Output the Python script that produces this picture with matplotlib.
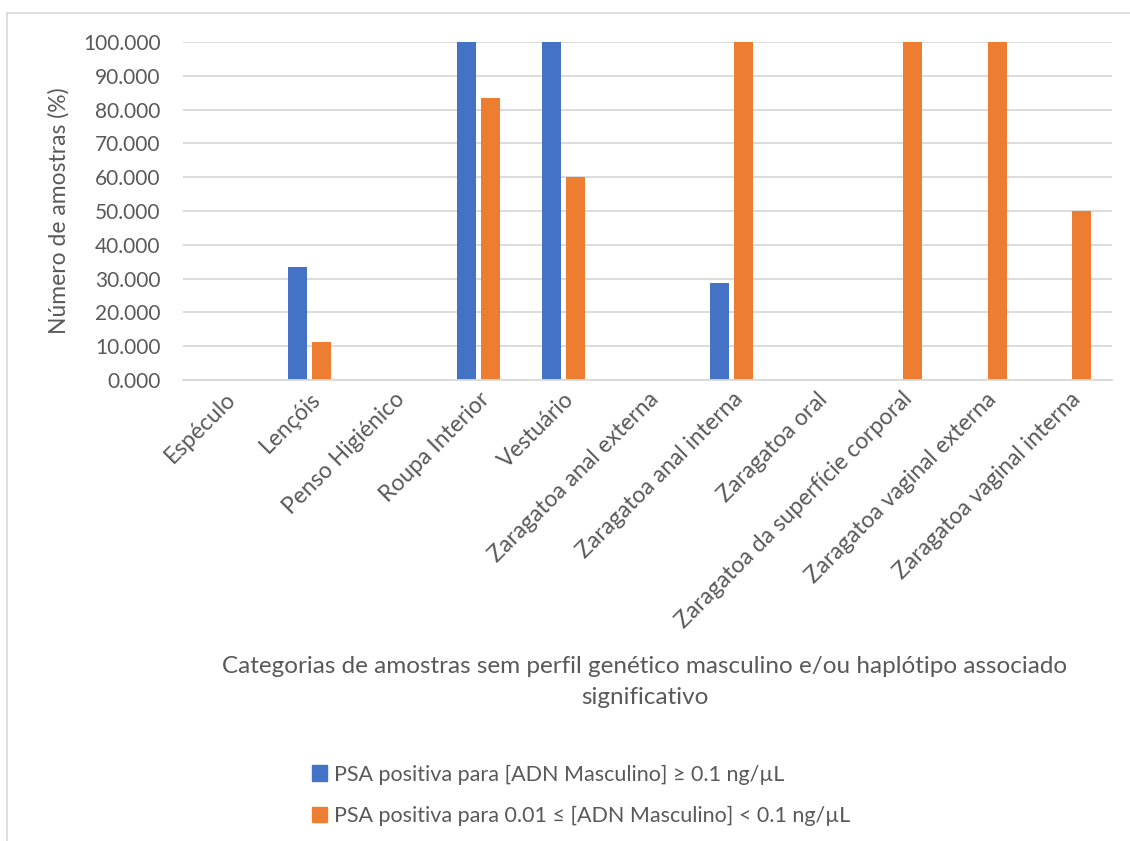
import numpy as np
import matplotlib.pyplot as plt
from matplotlib.patches import Patch
from matplotlib.lines import Line2D

plt.rcParams['font.family'] = ['Lato', 'DejaVu Sans']

categorias = ["Espéculo", "Lençóis", "Penso Higiénico", "Roupa Interior", "Vestuário",
              "Zaragatoa anal externa", "Zaragatoa anal interna", "Zaragatoa oral",
              "Zaragatoa da superfície corporal", "Zaragatoa vaginal externa",
              "Zaragatoa vaginal interna"]
psa_alto = [0, 33.333, 0, 100, 100, 0, 28.571, 0, 0, 0, 0]
psa_baixo = [0, 11.111, 0, 83.333, 60, 0, 100, 0, 100, 100, 50]
serie_labels = ["PSA positiva para [ADN Masculino] ≥ 0.1 ng/µL",
                "PSA positiva para 0.01 ≤ [ADN Masculino] < 0.1 ng/µL"]

azul = '#4472C4'
laranja = '#ED7D31'
cinza = '#595959'

fig = plt.figure(figsize=(11.3, 8.41), dpi=100)
ax = fig.add_axes([183 / 1130, 1 - 380 / 841, (1112 - 183) / 1130, (380 - 42) / 841])

x = np.arange(len(categorias))
w = 0.225
ax.bar(x - 0.142, psa_alto, w, color=azul, label=serie_labels[0])
ax.bar(x + 0.142, psa_baixo, w, color=laranja, label=serie_labels[1])

ax.set_xlim(-0.5, len(categorias) - 0.5)
ax.set_ylim(0, 100)
ax.set_yticks(np.arange(0, 101, 10))
ax.set_yticklabels([f"{v:.3f}" for v in np.arange(0, 101, 10)])
ax.yaxis.grid(True, color='#d9d9d9', linewidth=1.3)
ax.set_axisbelow(True)
for s in ['top', 'right', 'left']:
    ax.spines[s].set_visible(False)
ax.spines['bottom'].set_color('#d9d9d9')
ax.spines['bottom'].set_linewidth(1.3)
ax.tick_params(axis='y', length=0, labelsize=15, labelcolor=cinza, pad=16)
ax.tick_params(axis='x', length=0, labelsize=16.5, labelcolor=cinza, pad=6)
ax.set_xticks(x)
ax.set_xticklabels(categorias, rotation=45, ha='right', rotation_mode='anchor')
ax.set_ylabel("Número de amostras (%)", fontsize=16.5, color=cinza, labelpad=10)

fig.text(645 / 1130, 1 - 682 / 841,
         "Categorias de amostras sem perfil genético masculino e/ou haplótipo associado\nsignificativo",
         ha='center', va='center', fontsize=17.5, color=cinza, linespacing=1.55)

handles = [Patch(color=azul), Patch(color=laranja)]
fig.legend(handles, serie_labels, loc='upper left', bbox_to_anchor=(293 / 1130, 1 - 745 / 841),
           frameon=False, fontsize=15.5, labelcolor=cinza, handlelength=0.7, handleheight=0.7,
           handletextpad=0.3, labelspacing=1.0)

# moldura do gráfico
fig.add_artist(Line2D([7 / 1130, 7 / 1130], [0, 1 - 13 / 841], transform=fig.transFigure,
                      color='#d9d9d9', linewidth=1.2))
fig.add_artist(Line2D([7 / 1130, 1], [1 - 13 / 841, 1 - 13 / 841], transform=fig.transFigure,
                      color='#d9d9d9', linewidth=1.2))

fig.savefig("out.png", dpi=100)
